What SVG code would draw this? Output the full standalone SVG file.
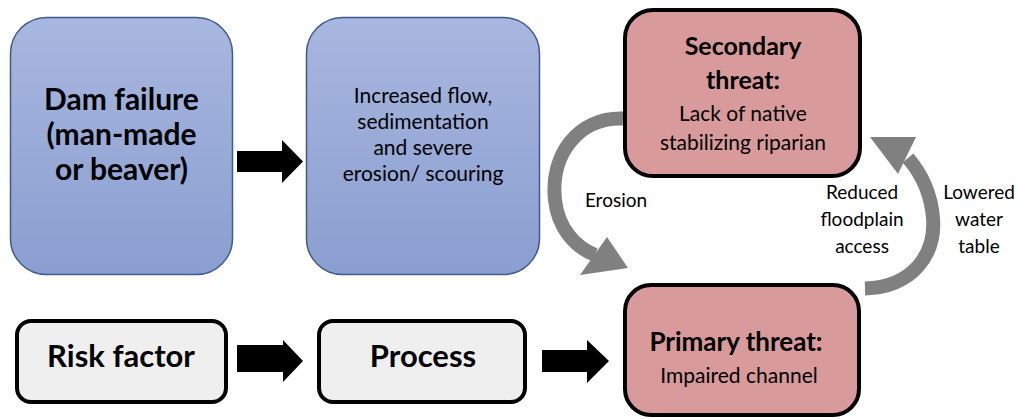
<svg xmlns="http://www.w3.org/2000/svg" width="1019" height="419" viewBox="0 0 1019 419">
<defs>
<linearGradient id="blueGrad" x1="0" y1="0" x2="0" y2="1">
<stop offset="0" stop-color="#A8B7DF"/>
<stop offset="1" stop-color="#8A9ED0"/>
</linearGradient>
</defs>
<style>
.blue{fill:url(#blueGrad);stroke:#3F5A8F;stroke-width:1.5}
.red{fill:#D99A9C;stroke:#000;stroke-width:4}
.grey{fill:#EFEFEF;stroke:#000;stroke-width:4}
.b{font-family:Lato,"Liberation Sans",sans-serif;font-weight:bold;fill:#000;text-anchor:middle}
.r{font-family:Lato,"Liberation Sans",sans-serif;fill:#000;text-anchor:middle}
.blk{fill:#000}
.gband{fill:none;stroke:#808080;stroke-width:14}
.ghead{fill:#808080}
</style>
<rect width="1019" height="419" fill="#fff"/>
<g id="connectors">
<polygon class="blk" points="237,151 282,151 282,140 303,161.5 282,183 282,172 237,172"/>
<polygon class="blk" points="237,345 283,345 283,340 303,361 283,382 283,372 237,372"/>
<polygon class="blk" points="542,350 587,350 587,340 609,361 587,383 587,372 542,372"/>
<path class="gband" d="M623,118.5 C578,117 550,155 555,200 C558,228 575,247 595,255"/>
<polygon class="ghead" points="580,275 628,268 607,237"/>
<path class="gband" d="M865,288.5 C912,287 936,255 933,218 C931,193 920,172 908,158"/>
<polygon class="ghead" points="870,137 916,137 898,174"/>
<text class="r" x="616" y="207" font-size="19">Erosion</text>
<text class="r" x="862" y="199" font-size="19">Reduced</text>
<text class="r" x="862" y="226" font-size="19">floodplain</text>
<text class="r" x="862" y="253" font-size="19">access</text>
<text class="r" x="979" y="199" font-size="19">Lowered</text>
<text class="r" x="979" y="226" font-size="19">water</text>
<text class="r" x="979" y="253" font-size="19">table</text>
</g>
<g id="dam">
<rect class="blue" x="10.5" y="17.5" width="222" height="257" rx="36"/>
<text class="b" x="121.5" y="110" font-size="30">Dam failure</text>
<text class="b" x="121.5" y="145" font-size="30">(man-made</text>
<text class="b" x="121.5" y="180" font-size="30">or beaver)</text>
</g>
<g id="increased">
<rect class="blue" x="306.5" y="17.5" width="233" height="257" rx="36"/>
<text class="r" x="423" y="103" font-size="21">Increased flow,</text>
<text class="r" x="423" y="129" font-size="21">sedimentation</text>
<text class="r" x="423" y="155" font-size="21">and severe</text>
<text class="r" x="423" y="181" font-size="21">erosion/ scouring</text>
</g>
<g id="secondary">
<rect class="red" x="625" y="10" width="235" height="166" rx="28"/>
<text class="b" x="743" y="55" font-size="25">Secondary</text>
<text class="b" x="743" y="89" font-size="25">threat:</text>
<text class="r" x="743" y="121" font-size="21">Lack of native</text>
<text class="r" x="743" y="150" font-size="21">stabilizing riparian</text>
</g>
<g id="primary">
<rect class="red" x="625" y="285" width="234" height="130" rx="26"/>
<text class="b" x="736" y="351" font-size="26">Primary threat:</text>
<text class="r" x="739" y="383" font-size="21">Impaired channel</text>
</g>
<g id="risk">
<rect class="grey" x="17" y="321" width="209" height="81" rx="14"/>
<text class="b" x="121" y="367" font-size="31">Risk factor</text>
</g>
<g id="process">
<rect class="grey" x="319" y="321" width="206" height="81" rx="14"/>
<text class="b" x="423" y="367" font-size="31">Process</text>
</g>
</svg>
